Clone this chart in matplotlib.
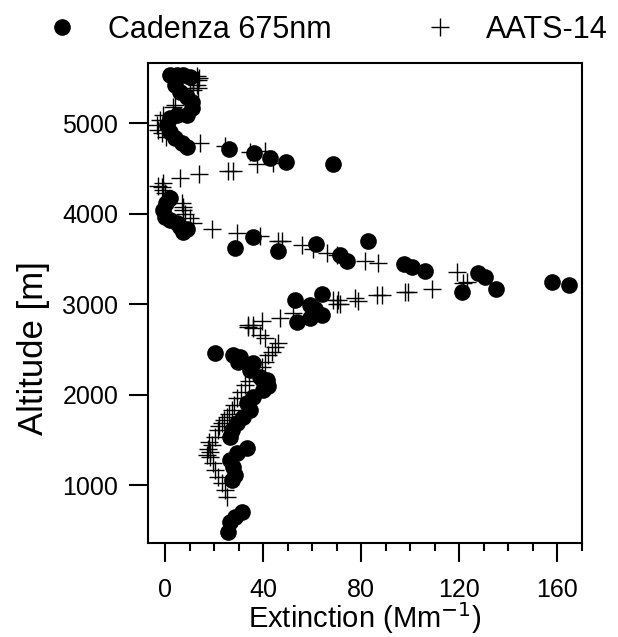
import numpy as np
import matplotlib
matplotlib.use("Agg")
import matplotlib.pyplot as plt
from matplotlib.ticker import MultipleLocator

plt.rcParams['font.family'] = ['Liberation Sans', 'DejaVu Sans']

# Cadenza 675nm extinction (Mm-1) and altitude (m)
cad_ext = [2, 4.9, 7.3, 10.2, 4.1, 6.1, 9, 11, 11, 9, 4.9, 2, 0.8, 2, 4.1, 6.9, 9,
           26, 36.2, 42.8, 49.3, 68.4,
           2, 0.4, -0.8, 0, 2, 4.9, 6.1, 7.3, 9,
           28.5, 35.8, 46, 61.5, 71.3, 74.1, 82.7, 97.3, 100.6, 105.9, 127.4, 130.3,
           134.8, 120.9, 157.6, 164.9,
           52.9, 59, 63.9, 53.7, 59, 63.9, 61,
           20.4, 27.7, 30.5, 29.7, 35.8, 34.6, 38.7, 41.5, 42, 39.9, 35.8, 33.4, 34.6,
           31.8, 29.3, 27.3, 26.5, 33.4, 29.3, 26.5, 27.7, 28.5, 27.3,
           31.4, 28.5, 26.5, 25.7]
cad_alt = [5530, 5530, 5530, 5508, 5420, 5343, 5287, 5232, 5166, 5088, 5088, 5055, 4978,
           4900, 4834, 4779, 4735,
           4713, 4669, 4613, 4569, 4547,
           4171, 4120, 4039, 3961, 3930, 3895, 3850, 3796, 3830,
           3619, 3740, 3586, 3663, 3541, 3475, 3696, 3442, 3410, 3365, 3343, 3298,
           3166, 3133, 3243, 3210,
           3044, 2989, 3110, 2801, 2845, 2878, 2950,
           2458, 2436, 2414, 2359, 2348, 2271, 2193, 2160, 2100, 2050, 1972, 1906, 1829,
           1751, 1685, 1608, 1530, 1409, 1353, 1276, 1199, 1110, 1055,
           702, 646, 591, 480]

# AATS-14 extinction (Mm-1) and altitude (m)
aats_ext = [13, 14, 11.4, 13.4, 13, 13.4, 11.4, 10.2, 4.1, 3, -0.8, -2, -3.3, -2.9, -1.2, 0.5,
            14.3, 24.4, 34.6, 40.7, 44, 37.5,
            25.7, 27.8, 13.8, 6.1, -0.8, -2.9, -1.2, -0.8, 0,
            6.9, 7.3, 7.3, 8, 10.2, 11.4,
            19.1, 29.3, 38.7, 46, 47.6, 55.8, 60.3, 66, 70, 81.4, 86.7, 118.9, 121.3, 123,
            33.8, 35.8, 39.5, 46.8, 52.1, 70, 71.3, 68.4, 70.4, 77.4, 78.6, 86.3, 88.4,
            97.7, 98.9, 108.7,
            33.8, 35.8, 38.7, 40.7, 46, 44.8, 43.6, 41.9, 40.7, 39.5, 37, 34, 32.6, 31,
            29.3, 28, 27.3, 26, 25.2, 24, 23.2, 22, 21.6, 20.4, 18, 19.1, 17.5, 18.3, 17,
            18.3, 19.5, 20.4, 21.6, 23.2, 24.4, 25.2]
aats_alt = [5520, 5500, 5475, 5475, 5420, 5387, 5365, 5387, 5199, 5180, 5088, 5033, 4978,
            4923, 4889, 4850,
            4779, 4746, 4680, 4690, 4558, 4547,
            4470, 4470, 4436, 4392, 4337, 4310, 4293, 4260, 4226,
            4116, 4072, 4039, 4000, 3950, 3895,
            3829, 3785, 3751, 3696, 3696, 3652, 3608, 3563, 3541, 3475, 3453, 3354, 3232, 3243,
            2768, 2768, 2812, 2845, 2900, 3000, 3000, 3044, 3044, 3066, 3033, 3099, 3099,
            3133, 3133, 3166,
            2746, 2735, 2657, 2624, 2569, 2525, 2470, 2436, 2359, 2304, 2200, 2150, 2105, 2030,
            1961, 1890, 1829, 1790, 1751, 1720, 1685, 1650, 1608, 1530, 1480, 1442, 1400, 1365, 1330,
            1309, 1243, 1166, 1088, 1022, 945, 867]

fig = plt.figure(figsize=(6.18, 6.37), dpi=100)
ax = fig.add_axes([0.2395, 0.1476, 0.7022, 0.7534])

ax.plot(cad_ext, cad_alt, 'o', color='black', markersize=12, markeredgewidth=0,
        label='Cadenza 675nm', linestyle='none')
ax.plot(aats_ext, aats_alt, '+', color='black', markersize=13, markeredgewidth=1.0,
        label='AATS-14', linestyle='none')

ax.set_xlim(-7, 170)
ax.set_ylim(360, 5663)

ax.xaxis.set_major_locator(MultipleLocator(40))
ax.xaxis.set_minor_locator(MultipleLocator(10))
ax.yaxis.set_major_locator(MultipleLocator(1000))

for s in ax.spines.values():
    s.set_linewidth(1.5)

ax.tick_params(axis='both', which='major', direction='out', length=13.5, width=1.5,
               labelsize=18, pad=8)
ax.tick_params(axis='x', which='major', pad=12)
ax.tick_params(axis='x', which='minor', direction='out', length=6, width=1.5)
ax.tick_params(top=False, right=False)

ax.set_xlabel('Extinction (Mm$^{-1}$)', fontsize=21)
ax.set_ylabel('Altitude [m]', fontsize=25)
ax.xaxis.set_label_coords(0.5, -0.12)
ax.yaxis.set_label_coords(-0.225, 0.406)

fig.legend(loc='upper left', bbox_to_anchor=(0.031, 1.02), ncol=2, frameon=False,
           fontsize=22, handlelength=1.0, handletextpad=1.0, columnspacing=3.05,
           markerscale=1.0)

fig.savefig('out.png', dpi=100)
